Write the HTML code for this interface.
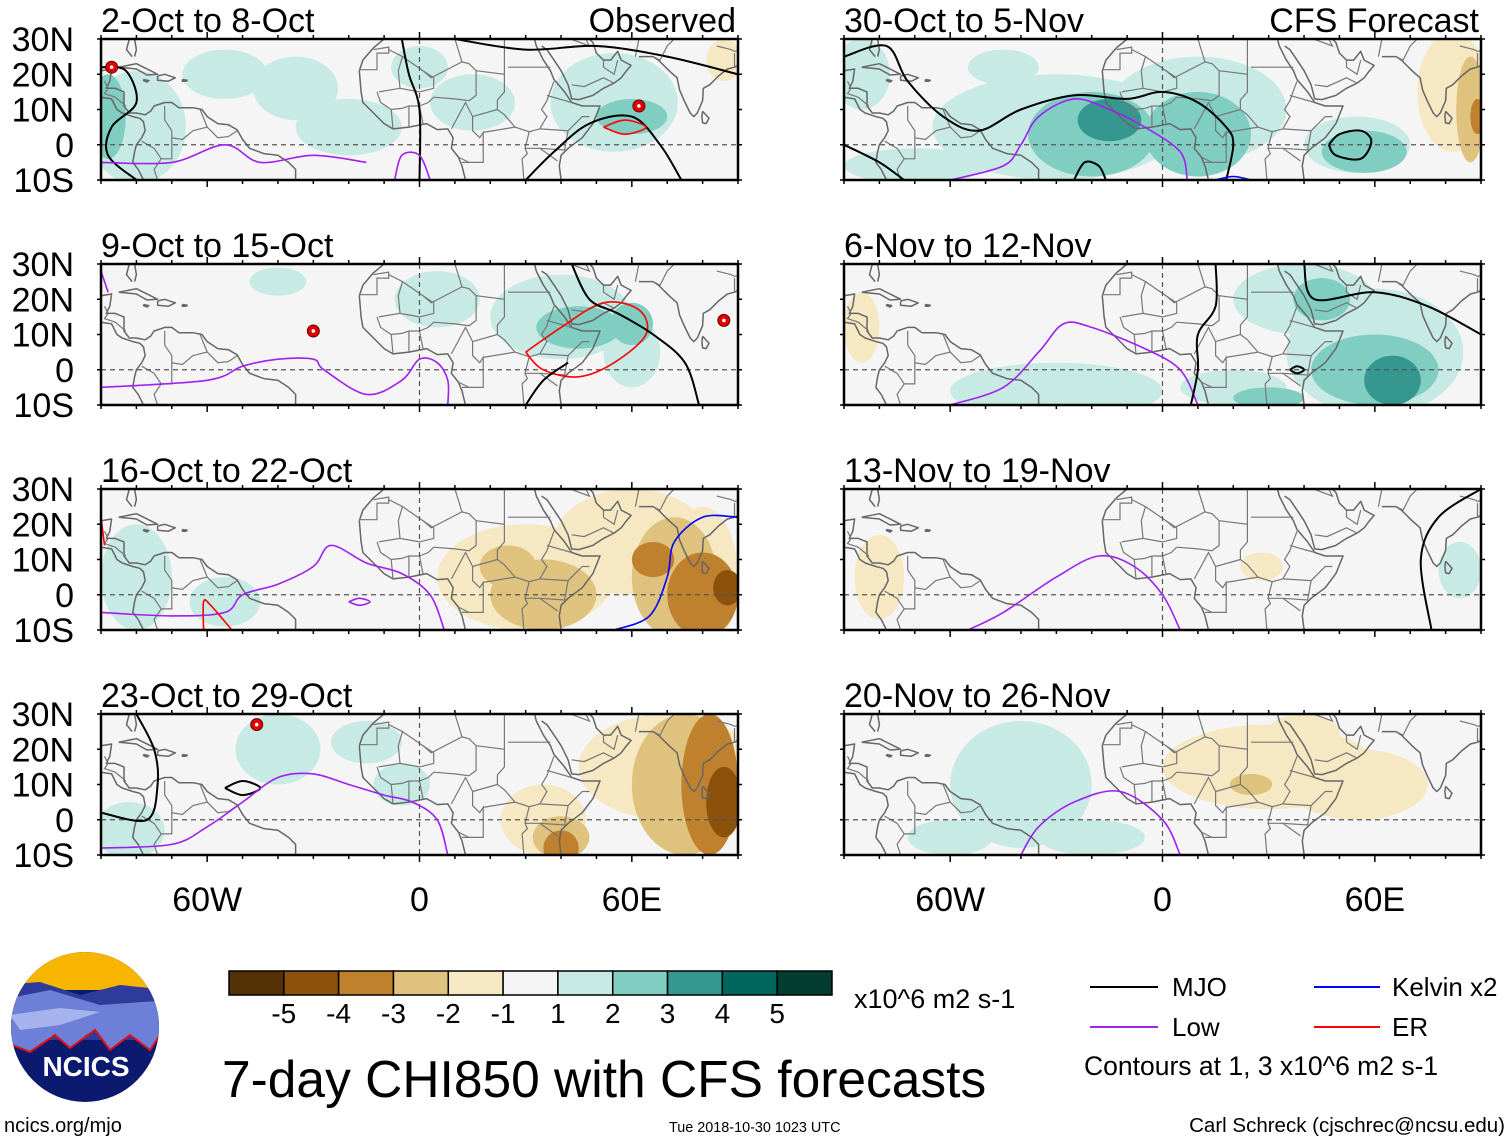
<!DOCTYPE html>
<html><head><meta charset="utf-8">
<style>
html,body{margin:0;padding:0;background:#fff;}
svg{display:block;font-family:"Liberation Sans",sans-serif;}
</style></head>
<body>
<svg id="fig" width="1510" height="1142" viewBox="0 0 1510 1142" xmlns="http://www.w3.org/2000/svg">
<rect width="1510" height="1142" fill="#fff"/>
<g id="panels"></g>
<g id="cbar"></g>
<text x="854" y="1008" font-size="27">x10^6 m2 s-1</text>
<g>
 <line x1="1090" y1="987" x2="1158" y2="987" stroke="#000" stroke-width="2"/>
 <text x="1172" y="996" font-size="26">MJO</text>
 <line x1="1090" y1="1027" x2="1158" y2="1027" stroke="#a020f0" stroke-width="2"/>
 <text x="1172" y="1036" font-size="26">Low</text>
 <line x1="1314" y1="987" x2="1380" y2="987" stroke="#0000ff" stroke-width="2"/>
 <text x="1392" y="996" font-size="26">Kelvin x2</text>
 <line x1="1314" y1="1027" x2="1380" y2="1027" stroke="#ff0000" stroke-width="2"/>
 <text x="1392" y="1036" font-size="26">ER</text>
 <text x="1084" y="1075" font-size="26.5">Contours at 1, 3 x10^6 m2 s-1</text>
</g>
<text x="222" y="1097" font-size="51.5">7-day CHI850 with CFS forecasts</text>
<text x="4" y="1132" font-size="20">ncics.org/mjo</text>
<text x="669" y="1132" font-size="14.4">Tue 2018-10-30 1023 UTC</text>
<text x="1505" y="1132" font-size="20.5" text-anchor="end">Carl Schreck (cjschrec@ncsu.edu)</text>
<g>
 <clipPath id="lc"><ellipse cx="85" cy="1027" rx="74" ry="75"/></clipPath>
 <g clip-path="url(#lc)">
  <rect x="0" y="950" width="170" height="160" fill="#0b1a6e"/>
  <rect x="0" y="950" width="170" height="40" fill="#f7b500"/>
  <path d="M0 985 L40 982 L80 995 L120 985 L170 990 L170 1040 L0 1040Z" fill="#2f3b9a"/>
  <path d="M0 1000 L50 990 L100 1005 L170 1000 L170 1020 L150 1050 L130 1035 L110 1050 L95 1030 L70 1048 L55 1035 L30 1052 L0 1040Z" fill="#6d7fd6"/>
  <path d="M10 1015 L60 1008 L100 1012 L60 1025 L20 1030Z" fill="#a6b2ee"/>
  <path d="M0 1040 L30 1052 L55 1035 L70 1048 L95 1030 L110 1050 L130 1035 L150 1050 L170 1020" fill="none" stroke="#e01010" stroke-width="2"/>
 </g>
 <text x="86" y="1076" font-size="28" font-weight="bold" fill="#fff" text-anchor="middle">NCICS</text>
</g>
</svg>
<script>
// ---- data ----
const panelTitles = ["2-Oct to 8-Oct","30-Oct to 5-Nov","9-Oct to 15-Oct","6-Nov to 12-Nov","16-Oct to 22-Oct","13-Nov to 19-Nov","23-Oct to 29-Oct","20-Nov to 26-Nov"];
const panelTags = ["Observed","CFS Forecast","","","","","",""];
const latTicks = [30,20,10,0,-10];
const latLabels = ["30N","20N","10N","0","10S"];
const lonTicks = [-60,0,60];
const lonLabels = ["60W","0","60E"];
const cbarLevels = [-5,-4,-3,-2,-1,1,2,3,4,5];
const cbarColors = ["#543005","#8c510a","#bf812d","#dfc27d","#f6e8c3","#f5f5f5","#c7eae5","#80cdc1","#35978f","#01665e","#003c30"];
// blobs: [lon, lat, rxDeg, ryDeg, level]
const blobs0 = [[-80,5,14,16,1],[-55,20,12,7,1],[-35,16,12,9,1],[-20,5,15,8,1],[0,22,8,6,1],[15,12,12,8,1],[55,12,18,14,1],[-88,8,5,12,2],[60,8,10,5,2],[86,24,5,6,-1]];
const blobs1 = [[-30,5,35,15,1],[10,10,25,15,1],[-85,20,8,10,1],[-70,-6,20,5,1],[55,0,15,8,1],[-45,22,10,5,1],[-20,3,18,12,2],[10,3,15,12,2],[57,-2,12,6,2],[-15,7,9,6,3],[82,15,10,17,-1],[87,10,4,15,-2],[89,8,2,5,-3]];
const blobs2 = [[5,20,12,8,1],[40,15,20,12,1],[60,5,8,10,1],[-40,25,8,4,1],[45,12,12,6,2],[60,13,6,6,2]];
const blobs3 = [[-30,-6,30,8,1],[20,-5,15,5,1],[60,5,25,18,1],[40,20,20,10,1],[60,0,18,10,2],[45,20,8,6,2],[30,-8,10,3,2],[65,-3,8,7,3],[-85,12,5,10,-1]];
const blobs4 = [[-80,5,10,15,1],[-55,-2,10,7,1],[30,5,25,15,-1],[60,15,22,15,-1],[80,5,10,20,-1],[35,0,15,10,-2],[72,5,12,17,-2],[25,8,8,6,-2],[80,0,10,12,-3],[66,10,6,5,-3],[87,2,4,5,-4]];
const blobs5 = [[-80,5,7,12,-1],[28,8,6,4,-1],[84,7,6,8,1]];
const blobs6 = [[-82,-3,10,8,1],[-40,20,12,10,1],[-15,22,10,6,1],[-5,10,8,6,1],[35,0,12,10,-1],[70,15,25,15,-1],[40,-5,8,6,-2],[75,10,15,20,-2],[40,-8,5,5,-3],[82,10,8,20,-3],[86,5,5,10,-4]];
const blobs7 = [[-40,10,20,18,1],[-60,-5,12,5,1],[-20,-5,15,5,1],[30,15,30,12,-1],[55,10,20,10,-1],[40,25,10,5,-1],[25,10,6,3,-2]];
const allBlobs = [blobs0,blobs1,blobs2,blobs3,blobs4,blobs5,blobs6,blobs7];
// contours: [type, [[lon,lat],...]]
const lines0 = [["mjo",[[-90,22],[-83,21],[-80,12],[-87,5],[-88,-3],[-80,-10]]],["mjo",[[-5,30],[-3,20],[0,10],[0,-10]]],["mjo",[[30,-10],[38,-2],[48,6],[60,8],[68,0],[74,-10]]],["mjo",[[10,30],[30,27],[50,28],[70,25],[90,20]]],["low",[[-90,-5],[-70,-5],[-55,0],[-45,-5],[-30,-3],[-15,-5]]],["low",[[-7,-10],[-5,-3],[0,-3],[3,-10]]],["er",[[52,5],[58,7],[64,5],[58,3],[52,5]]]];
const lines1 = [["mjo",[[-90,25],[-78,28],[-72,18],[-62,8],[-52,4],[-40,10],[-25,14],[-10,13],[0,15],[10,12],[18,5],[20,0],[18,-10]]],["mjo",[[-90,0],[-80,-5],[-73,-10]]],["mjo",[[47,0],[50,3],[56,4],[59,1],[56,-4],[49,-3],[47,0]]],["mjo",[[-25,-10],[-22,-5],[-18,-6],[-16,-10]]],["low",[[-60,-10],[-45,-6],[-40,0],[-35,8],[-25,13],[-15,10],[-5,5],[5,-2],[7,-10]]],["kel",[[15,-10],[20,-9],[25,-10]]]];
const lines2 = [["low",[[-90,-5],[-60,-3],[-50,1],[-40,3],[-30,3],[-27,0],[-15,-7],[-5,-3],[0,3],[5,2],[8,-3],[8,-10]]],["low",[[-90,28],[-88,22]]],["er",[[30,5],[40,12],[52,19],[62,17],[64,10],[55,2],[45,-2],[35,0],[30,5]]],["mjo",[[43,30],[48,20],[56,16],[66,10],[75,2],[79,-10]]],["mjo",[[30,-10],[35,-3],[42,2]]]];
const lines3 = [["low",[[-60,-10],[-45,-5],[-35,5],[-28,13],[-20,12],[-5,6],[5,0],[10,-10]]],["mjo",[[15,30],[15,18],[10,10],[10,0],[8,-10]]],["mjo",[[40,30],[43,20],[60,22],[75,18],[90,10]]],["mjo",[[36,0],[38,1],[40,0],[38,-1],[36,0]]]];
const lines4 = [["low",[[-90,-5],[-70,-6],[-55,-5],[-50,0],[-40,3],[-30,8],[-25,14],[-15,9],[-5,6],[3,0],[7,-10]]],["low",[[-20,-2],[-17,-1],[-14,-2],[-17,-3],[-20,-2]]],["er",[[-90,22],[-89,14]]],["er",[[-61,-10],[-61,-2],[-59,-3],[-53,-10]]],["kel",[[55,-10],[65,-6],[70,5],[72,15],[80,22],[90,22]]]];
const lines5 = [["low",[[-55,-10],[-45,-5],[-30,5],[-18,11],[-8,8],[0,0],[5,-10]]],["mjo",[[90,30],[78,22],[73,10],[76,-10]]]];
const lines6 = [["mjo",[[-80,30],[-75,20],[-74,10],[-77,0],[-90,2]]],["mjo",[[-55,9],[-50,11],[-45,9],[-50,7],[-55,9]]],["low",[[-90,-8],[-70,-7],[-60,-2],[-50,5],[-40,12],[-30,13],[-20,10],[-10,7],[-2,5],[5,0],[8,-10]]]];
const lines7 = [["low",[[-40,-10],[-35,-2],[-25,5],[-12,8],[0,0],[5,-10]]]];
const allLines = [lines0,lines1,lines2,lines3,lines4,lines5,lines6,lines7];
// storm markers [panel, lon, lat]
const storms = [[0,-87,22],[0,62,11],[2,-30,11],[2,86,14],[6,-46,27]];

// ---- drawing ----
const NS="http://www.w3.org/2000/svg";
function mk(tag,attrs,parent){const e=document.createElementNS(NS,tag);for(const k in attrs)e.setAttribute(k,attrs[k]);if(parent)parent.appendChild(e);return e;}
const W=637,H=141,LON0=-90,LON1=90,LAT0=-10,LAT1=30;
const origins=[[101,39],[844,39],[101,264],[844,264],[101,489],[844,489],[101,714],[844,714]];
function xs(p,lon){return origins[p][0]+(lon-LON0)/(LON1-LON0)*W;}
function ys(p,lat){return origins[p][1]+(LAT1-lat)/(LAT1-LAT0)*H;}
function levelColor(l){return cbarColors[5+l];}
const coast=[
 [[-17,21],[-16.5,15],[-16,12],[-13,9],[-10,6],[-7.5,4.5],[-3,5],[2,6],[5,4.3],[8,4.5],[9.5,2],[9,-1],[11,-3.5],[12,-6],[13,-10]],
 [[-17,21],[-16,24],[-13,27.5],[-10,30]],
 [[40,-10],[39.5,-6],[40,-3],[42,-1],[46,2],[49,6],[51,11],[46,11],[43,12],[41,15],[38,18.5],[37,21],[35,24],[33,28],[32.5,30]],
 [[34.5,28],[36,27],[38,24],[40,21],[42,17],[43,13],[45,12.8],[49,14],[52,16],[55,17.5],[57,19],[58.5,21],[59.8,22.5],[57,24],[56,26.5],[54,24],[52,24],[50,26],[49,29],[48,30]],
 [[62,25],[66,25],[67.5,24],[69,22.5],[70.5,21],[72.8,19],[73.5,15.5],[74.8,12.5],[76.5,9],[77.5,8],[78.5,9],[80,12.5],[80.2,16],[82,17],[84.5,19.5],[87,21.5],[89,22],[90,22.5]],
 [[80,9.5],[81.8,7.5],[81,6],[80,6.2],[79.8,8],[80,9.5]],
 [[-90,21],[-87,21.5],[-87.5,18],[-88.5,16],[-86,16],[-83.5,15],[-83.5,11],[-82,9],[-80,9],[-77.5,8.5],[-76,9.5],[-75,11],[-72,12],[-70,12],[-68,10.5],[-64,10.5],[-61.5,10],[-60,8],[-57,6],[-54,5.7],[-51.5,4.2],[-50,1.5],[-48,-1],[-44,-2.5],[-40,-3],[-37,-5],[-35,-7],[-35,-10]],
 [[-90,13.5],[-87,13],[-86,11],[-85.5,10],[-84,9],[-81,8],[-79,7.5],[-78,6.5],[-77.5,4],[-78.5,2],[-80,0],[-80.5,-2],[-81,-5],[-79.5,-7],[-78,-10]],
 [[-85,22],[-80,23],[-76,21],[-74,20],[-77,19.8],[-80,21.5],[-85,22]],
 [[-74,19.5],[-72,20],[-69,19],[-71,18],[-74,18.3],[-74,19.5]],
 [[-78,18.5],[-76.5,18.2],[-77,17.8],[-78,18.2],[-78,18.5]],
 [[-67,18.5],[-65.6,18.3],[-66,18],[-67,18],[-67,18.5]],
 [[-80.5,25],[-80,27],[-80.5,30]],[[-82,30],[-82.8,27],[-81.2,25]]
];
const borders=[
 [[-13,27],[-8.7,27.7],[-8.7,26],[-12,26],[-12,21.3],[-17,21.3]],[[-8.7,27],[-4.8,25],[-6,21],[-5.5,16],[-11.5,15]],[[-4.8,25],[1,21],[4,19],[4,16],[0,15],[-5.5,16]],
 [[1,21],[3.3,19],[12,23.5],[14,23],[16,21],[16,14],[14,12.5],[10,13],[4,13.5]],[[12,23.5],[10,30]],[[24,20],[24,30]],[[16,21],[24,20],[24,15],[22,12.7],[22,10],[15,8]],
 [[22,10],[24,8.5],[27,5],[31,3.7],[34,4.5],[36,8],[34.5,10],[36,12.5],[36.5,14],[38,18]],[[25,22],[37,22]],[[36,14],[43,12]],[[34,4.5],[42,4],[46,8],[48,8]],
 [[-12,15],[-11,12],[-8,10],[-5,10.3],[-3,11],[0,11],[1,6]],[[-8,10],[-7.5,4.5]],[[-3,5],[-3,11]],[[0,11],[2.5,12],[4,13.5]],[[9,4.5],[13,12],[15,8],[15,4],[17,2],[18,3.5],[18,-5],[12,-5]],
 [[18,3.5],[24,4.5],[27,5]],[[31,3.7],[29.8,-1],[30.5,-2.5],[29,-4],[29.5,-10]],[[34,-1],[41,-1.5],[42,4]],[[29.8,-1],[34,-1],[37.5,-3.5],[39,-4.6]],[[11,-3.5],[14,-5]],
 [[-62,10],[-60,5],[-64,4],[-67,1.5],[-70,2],[-70,4],[-72,7],[-72,11]],[[-70,2],[-70,-4],[-73,-4],[-75,-1],[-78.5,1]],[[-73,-4],[-75,-7],[-74,-10]],[[-60,5],[-57,2],[-54,2.3],[-51.5,4]],
 [[-83,11],[-86,13.5],[-89,14.5],[-88,16],[-89,18]],
 [[47,30],[48,28],[40,31]],[[52,24],[52,22],[55,20],[56,24]],[[43,17],[46.5,16.5],[52,19],[55,17.5]],[[61,25],[62,30]],[[66,25],[68,24],[70,28],[74,32]],[[84,28],[88,27],[89,26.5],[92,27]],[[89,22],[89,26]]
];
function pts(p,arr){return arr.map(q=>xs(p,q[0]).toFixed(1)+","+ys(p,q[1]).toFixed(1)).join(" ");}
function smooth(p,arr){
 const P=arr.map(q=>[xs(p,q[0]),ys(p,q[1])]);
 let d="M"+P[0][0].toFixed(1)+" "+P[0][1].toFixed(1);
 for(let i=0;i<P.length-1;i++){const p0=P[i-1]||P[i],p1=P[i],p2=P[i+1],p3=P[i+2]||P[i+1];
  const c1=[p1[0]+(p2[0]-p0[0])/6,p1[1]+(p2[1]-p0[1])/6],c2=[p2[0]-(p3[0]-p1[0])/6,p2[1]-(p3[1]-p1[1])/6];
  d+=" C"+c1[0].toFixed(1)+" "+c1[1].toFixed(1)+" "+c2[0].toFixed(1)+" "+c2[1].toFixed(1)+" "+p2[0].toFixed(1)+" "+p2[1].toFixed(1);}
 return d;}
const lineColor={mjo:"#000",low:"#a020f0",kel:"#0000ff",er:"#ff0000"};
const pg=document.getElementById("panels");
for(let p=0;p<8;p++){
 const x0=origins[p][0],y0=origins[p][1];
 const g=mk("g",{},pg);
 
 
 const cp=mk("clipPath",{id:"cp"+p},g);mk("rect",{x:x0,y:y0,width:W,height:H},cp);
 const inner=mk("g",{"clip-path":"url(#cp"+p+")"},g);
 mk("rect",{x:x0,y:y0,width:W,height:H,fill:"#f5f5f5"},inner);
 const bl=allBlobs[p].slice().sort((a,b)=>Math.abs(a[4])-Math.abs(b[4]));
 for(const b of bl){
  const e=mk("ellipse",{cx:xs(p,b[0]),cy:ys(p,b[1]),rx:b[2]*W/180,ry:b[3]*H/40,fill:levelColor(b[4])},inner);
  
  
 }
 for(const c of coast) mk("polyline",{points:pts(p,c),fill:"none",stroke:"#666","stroke-width":1.5,"stroke-linejoin":"round"},inner);
 for(const c of borders) mk("polyline",{points:pts(p,c),fill:"none",stroke:"#777","stroke-width":1.2},inner);
 mk("line",{x1:x0,y1:ys(p,0),x2:x0+W,y2:ys(p,0),stroke:"#555","stroke-width":1.2,"stroke-dasharray":"5,4"},inner);
 mk("line",{x1:xs(p,0),y1:y0,x2:xs(p,0),y2:y0+H,stroke:"#555","stroke-width":1.2,"stroke-dasharray":"5,4"},inner);
 for(const L of allLines[p]){
  const e=mk("path",{d:smooth(p,L[1]),fill:"none",stroke:lineColor[L[0]],"stroke-width":L[0]=="mjo"?2:1.6},inner);
  
  
 }
 for(const s of storms) if(s[0]===p){
  const cx=xs(p,s[1]),cy=ys(p,s[2]);
  const e=mk("circle",{cx:cx,cy:cy,r:6,fill:"#e00000",stroke:"#600","stroke-width":1},inner);
  
  
  mk("circle",{cx:cx,cy:cy,r:1.8,fill:"#fff"},inner);
 }
 mk("rect",{x:x0,y:y0,width:W,height:H,fill:"none",stroke:"#000","stroke-width":2.5},g);
 for(let lon=-90;lon<=90;lon+=10){const x=xs(p,lon),len=(lon%60===0)?7:4;
  mk("line",{x1:x,y1:y0-len,x2:x,y2:y0,stroke:"#000","stroke-width":1.5},g);
  mk("line",{x1:x,y1:y0+H,x2:x,y2:y0+H+len,stroke:"#000","stroke-width":1.5},g);}
 for(const lat of latTicks){const y=ys(p,lat);
  mk("line",{x1:x0-4,y1:y,x2:x0,y2:y,stroke:"#000","stroke-width":1.5},g);
  mk("line",{x1:x0+W,y1:y,x2:x0+W+4,y2:y,stroke:"#000","stroke-width":1.5},g);}
 const t=mk("text",{x:x0,y:y0-7,"font-size":34},g);t.textContent=panelTitles[p];
 
 
 if(panelTags[p]){const t2=mk("text",{x:x0+W-2,y:y0-7,"font-size":34,"text-anchor":"end"},g);t2.textContent=panelTags[p];
  
  }
 if(p%2===0){for(let i=0;i<latTicks.length;i++){const t3=mk("text",{x:74,y:ys(p,latTicks[i])+12,"font-size":34,"text-anchor":"end"},g);t3.textContent=latLabels[i];
  
  }}
 if(p>=6){for(let i=0;i<lonTicks.length;i++){const t4=mk("text",{x:xs(p,lonTicks[i]),y:911,"font-size":34,"text-anchor":"middle"},g);t4.textContent=lonLabels[i];
  
  }}
}
const cb=document.getElementById("cbar");
const cbx=229,cby=971,cbw=603/11,cbh=24;
for(let i=0;i<cbarColors.length;i++){const r=mk("rect",{x:cbx+i*cbw,y:cby,width:cbw,height:cbh,fill:cbarColors[i],stroke:"#000","stroke-width":1.5},cb);
 
 }
for(let i=0;i<cbarLevels.length;i++){const t=mk("text",{x:cbx+(i+1)*cbw,y:1023,"font-size":28,"text-anchor":"middle"},cb);t.textContent=cbarLevels[i];
 
 }
</script>
</body></html>
